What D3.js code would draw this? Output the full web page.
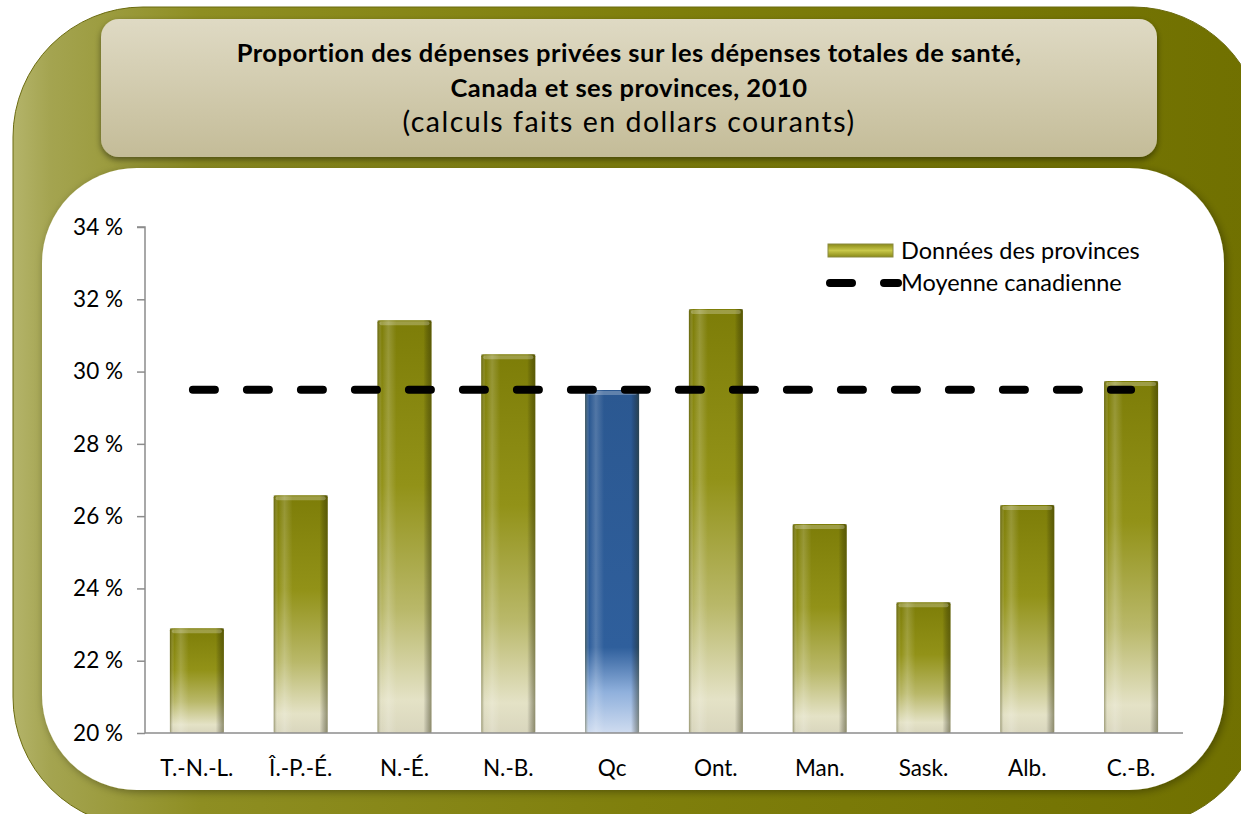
<!DOCTYPE html>
<meta charset="utf-8">
<style>
body { margin: 0; background: #fff; }
svg { display: block; }
text { font-family: Lato, "Open Sans", sans-serif; fill: #000; }
.axis path, .axis line { stroke: #8c8c8c; stroke-width: 1.5px; }
.axis text { font-size: 22.5px; }
</style>
<body>
<script src="https://cdn.jsdelivr.net/npm/d3@7"></script>
<script>
var width = 1241,
    height = 814;

// data
var provinces = ["T.-N.-L.", "Î.-P.-É.", "N.-É.", "N.-B.", "Qc", "Ont.", "Man.", "Sask.", "Alb.", "C.-B."];
var privateShare = [22.9, 26.58, 31.42, 30.48, 29.49, 31.73, 25.78, 23.62, 26.31, 29.74];
var canadaAverage = 29.5;
var highlighted = "Qc";
var yTicks = [20, 22, 24, 26, 28, 30, 32, 34];
var titleLines = ["Proportion des dépenses privées sur les dépenses totales de santé,",
                  "Canada et ses provinces, 2010",
                  "(calculs faits en dollars courants)"];
var legendLabels = ["Données des provinces", "Moyenne canadienne"];

var svg = d3.select("body").append("svg")
    .attr("width", width)
    .attr("height", height);

var defs = svg.append("defs");

function linGrad(id, x2, y2, stops) {
  var g = defs.append("linearGradient").attr("id", id)
      .attr("x1", 0).attr("y1", 0).attr("x2", x2).attr("y2", y2);
  stops.forEach(function(s) {
    g.append("stop").attr("offset", s[0]).attr("stop-color", s[1])
      .attr("stop-opacity", s[2] == null ? 1 : s[2]);
  });
}

linGrad("frame", 1, 0, [[0, "#b4b46a"], [0.03, "#a4a450"], [0.15, "#8e8e22"], [0.5, "#7f7f0c"], [1, "#707000"]]);
linGrad("titlebox", 0, 1, [[0, "#dfdac4"], [1, "#c4bc98"]]);
linGrad("olive", 0, 1, [[0, "#7d7d08"], [0.4, "#929218"], [0.7, "#b9b869"], [0.92, "#e4e2c6"], [1, "#d9d6bd"]]);
linGrad("blue", 0, 1, [[0, "#2b5891"], [0.75, "#2f5f9c"], [0.88, "#8fb0dc"], [1, "#cfdcf0"]]);
linGrad("sheen", 1, 0, [[0, "#3a3a00", 0.45], [0.08, "#ffffff", 0.0], [0.2, "#ffffff", 0.18], [0.35, "#ffffff", 0.0],
                        [0.85, "#000000", 0.0], [1, "#2a2a00", 0.45]]);
linGrad("legendSwatch", 0, 1, [[0, "#8a8a18"], [0.5, "#c8c84a"], [1, "#8a8a18"]]);

var shadow = defs.append("filter").attr("id", "shadow")
    .attr("x", "-5%").attr("y", "-5%").attr("width", "110%").attr("height", "115%");
shadow.append("feDropShadow").attr("dx", 0).attr("dy", 3).attr("stdDeviation", 3)
    .attr("flood-color", "#000").attr("flood-opacity", 0.45);

var soft = defs.append("filter").attr("id", "soft")
    .attr("x", "-5%").attr("y", "-5%").attr("width", "110%").attr("height", "110%");
soft.append("feDropShadow").attr("dx", 2).attr("dy", 2).attr("stdDeviation", 4)
    .attr("flood-color", "#000").attr("flood-opacity", 0.35);

// frame
svg.append("rect")
    .attr("x", 13).attr("y", 7)
    .attr("width", 1250).attr("height", 820)
    .attr("rx", 130).attr("ry", 130)
    .attr("fill", "url(#frame)")
    .attr("stroke", "#6b6b10").attr("stroke-width", 1);

// white panel
svg.append("rect")
    .attr("x", 42).attr("y", 168)
    .attr("width", 1182).attr("height", 622)
    .attr("rx", 95).attr("ry", 95)
    .attr("fill", "#fff")
    .attr("filter", "url(#soft)");

// title box
svg.append("rect")
    .attr("x", 101).attr("y", 19)
    .attr("width", 1056).attr("height", 138)
    .attr("rx", 18).attr("ry", 18)
    .attr("fill", "url(#titlebox)")
    .attr("filter", "url(#shadow)");

var title = svg.append("g").attr("text-anchor", "middle");
title.selectAll("text")
  .data(titleLines)
  .join("text")
    .attr("x", 629)
    .attr("y", function(d, i) { return [62, 97, 132][i]; })
    .style("font-size", function(d, i) { return i < 2 ? "25.5px" : "28.5px"; })
    .style("letter-spacing", function(d, i) { return i < 2 ? "0.5px" : "1.5px"; })
    .style("font-weight", function(d, i) { return i < 2 ? "bold" : "normal"; })
    .text(function(d) { return d; });

// scales
var x = d3.scaleBand()
    .domain(provinces)
    .range([145, 1183])
    .paddingInner(0.48)
    .paddingOuter(0.24);

var y = d3.scaleLinear()
    .domain([20, 34])
    .range([733, 227]);

// axes
var yAxis = svg.append("g").attr("class", "axis")
    .attr("transform", "translate(145,0)")
    .call(d3.axisLeft(y).tickValues(yTicks).tickSize(8).tickPadding(14)
      .tickFormat(function(d) { return d + " %"; }));
yAxis.select(".domain").attr("d", "M-8," + y(34) + "H0V" + y(20));

var bars = svg.append("g");
var barData = provinces.map(function(p, i) { return { name: p, value: privateShare[i] }; });

bars.selectAll("rect.bar")
  .data(barData)
  .join("rect")
    .attr("class", "bar")
    .attr("x", function(d) { return x(d.name); })
    .attr("y", function(d) { return y(d.value); })
    .attr("width", x.bandwidth())
    .attr("height", function(d) { return y(20) - y(d.value); })
    .attr("rx", 2)
    .attr("fill", function(d) { return d.name === highlighted ? "url(#blue)" : "url(#olive)"; });

// side shading
bars.selectAll("rect.sheen")
  .data(barData)
  .join("rect")
    .attr("class", "sheen")
    .attr("x", function(d) { return x(d.name); })
    .attr("y", function(d) { return y(d.value); })
    .attr("width", x.bandwidth())
    .attr("height", function(d) { return y(20) - y(d.value); })
    .attr("fill", "url(#sheen)");

// top bevel
bars.selectAll("rect.bevel")
  .data(barData)
  .join("rect")
    .attr("class", "bevel")
    .attr("x", function(d) { return x(d.name) + 2; })
    .attr("y", function(d) { return y(d.value) + 1; })
    .attr("width", x.bandwidth() - 4)
    .attr("height", 4)
    .attr("rx", 2)
    .attr("fill", "#fff")
    .attr("fill-opacity", 0.25);

var xAxis = svg.append("g").attr("class", "axis")
    .attr("transform", "translate(0," + y(20) + ")")
    .call(d3.axisBottom(x).tickSize(0).tickPadding(27));
xAxis.select(".domain").attr("d", "M145,0H1183");

// average line
var avgLine = [provinces[0], provinces[provinces.length - 1]];
svg.append("line")
    .attr("x1", x(avgLine[0]) + x.bandwidth() / 2 - 4)
    .attr("x2", x(avgLine[1]) + x.bandwidth() / 2)
    .attr("y1", y(canadaAverage))
    .attr("y2", y(canadaAverage))
    .attr("stroke", "#000")
    .attr("stroke-width", 8)
    .attr("stroke-linecap", "round")
    .attr("stroke-dasharray", "22 32");

// legend
var legend = svg.append("g").attr("transform", "translate(828,0)");
legend.append("rect")
    .attr("x", 0).attr("y", 244)
    .attr("width", 65).attr("height", 13)
    .attr("fill", "url(#legendSwatch)")
    .attr("stroke", "#8a8a40").attr("stroke-width", 1);
legend.append("line")
    .attr("x1", 2).attr("x2", 70)
    .attr("y1", 283).attr("y2", 283)
    .attr("stroke", "#000")
    .attr("stroke-width", 8)
    .attr("stroke-linecap", "round")
    .attr("stroke-dasharray", "22 32");
legend.selectAll("text")
  .data(legendLabels)
  .join("text")
    .attr("x", 73)
    .attr("y", function(d, i) { return 251 + i * 32; })
    .attr("dy", "0.35em")
    .style("font-size", "23.5px")
    .text(function(d) { return d; });
</script>
</body>
